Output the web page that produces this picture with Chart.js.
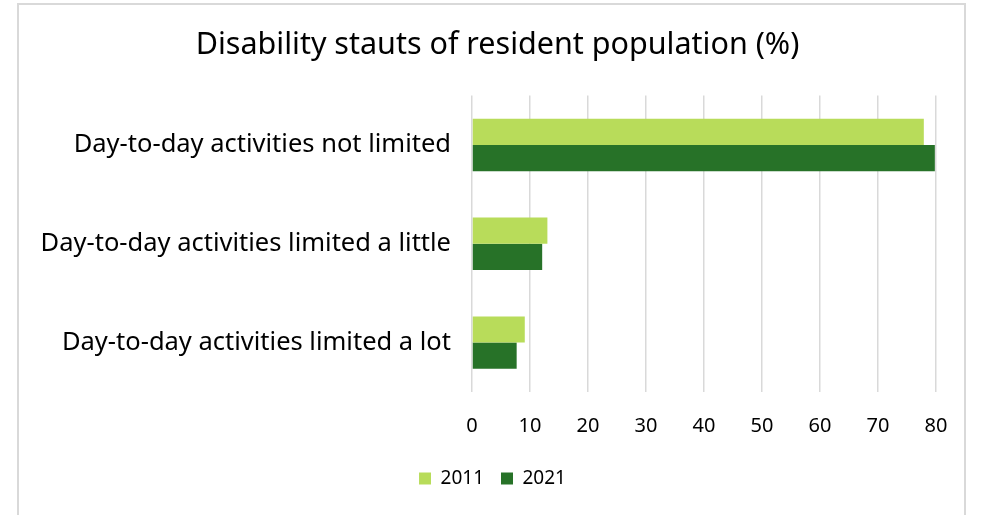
<!DOCTYPE html>
<html>
<head>
<meta charset="utf-8">
<script src="https://cdn.jsdelivr.net/npm/chart.js@4"></script>
<style>
  html, body { margin: 0; padding: 0; background: #fff; }
  #frame {
    position: absolute; left: 17px; top: 3px;
    width: 949px; height: 530px;
    border: 2px solid #d9d9d9; box-sizing: border-box;
  }
  #wrap { position: absolute; left: 0; top: 0; width: 945px; height: 510px; }
</style>
</head>
<body>
<div id="frame"><div id="wrap"><canvas id="chart"></canvas></div></div>
<script>
// data
const categories = [
  'Day-to-day activities not limited',
  'Day-to-day activities limited a little',
  'Day-to-day activities limited a lot'
];
const values2011 = [77.9, 13.0, 9.1];
const values2021 = [79.8, 12.1, 7.7];
const xTicks = [0, 10, 20, 30, 40, 50, 60, 70, 80];

const FONT = '"Noto Sans"';

// title and legend sit a bit right of the padded area in the original
const nudge = {
  id: 'nudge',
  afterLayout(chart) {
    chart.titleBlock.left += 15; chart.titleBlock.right += 15;
    chart.legend.left += 10; chart.legend.right += 10;
  }
};

const ctx = document.getElementById('chart').getContext('2d');
new Chart(ctx, {
  type: 'bar',
  data: {
    labels: categories,
    datasets: [
      { label: '2011', data: values2011, backgroundColor: '#b8dc5a', barPercentage: 1, categoryPercentage: 0.53 },
      { label: '2021', data: values2021, backgroundColor: '#277228', barPercentage: 1, categoryPercentage: 0.53 }
    ]
  },
  options: {
    indexAxis: 'y',
    responsive: true,
    maintainAspectRatio: false,
    animation: false,
    layout: { padding: { left: 10, right: 28, top: 0, bottom: 17 } },
    plugins: {
      title: {
        display: true,
        text: 'Disability stauts of resident population (%)',
        color: '#000',
        font: { family: FONT, size: 30.5, weight: 'normal' },
        padding: { top: 22, bottom: 32 }
      },
      legend: {
        position: 'bottom',
        labels: {
          color: '#000',
          font: { family: FONT, size: 19 },
          boxWidth: 12, boxHeight: 12,
          padding: 17
        }
      },
      tooltip: { enabled: false }
    },
    scales: {
      x: {
        min: 0, max: 80,
        afterBuildTicks: s => { s.ticks = xTicks.map(v => ({ value: v })); },
        afterFit: s => { s.paddingLeft = 0; s.paddingRight = 0; s.height -= 8; },
        grid: { color: '#d9d9d9', lineWidth: 1.5, drawTicks: false },
        border: { display: false },
        ticks: { color: '#000', font: { family: FONT, size: 20 }, padding: 22 }
      },
      y: {
        afterFit: s => { s.width = 443; },
        grid: { display: false },
        border: { display: false },
        ticks: { color: '#000', font: { family: FONT, size: 25.5 }, padding: 13 }
      }
    }
  },
  plugins: [nudge]
});
</script>
</body>
</html>
